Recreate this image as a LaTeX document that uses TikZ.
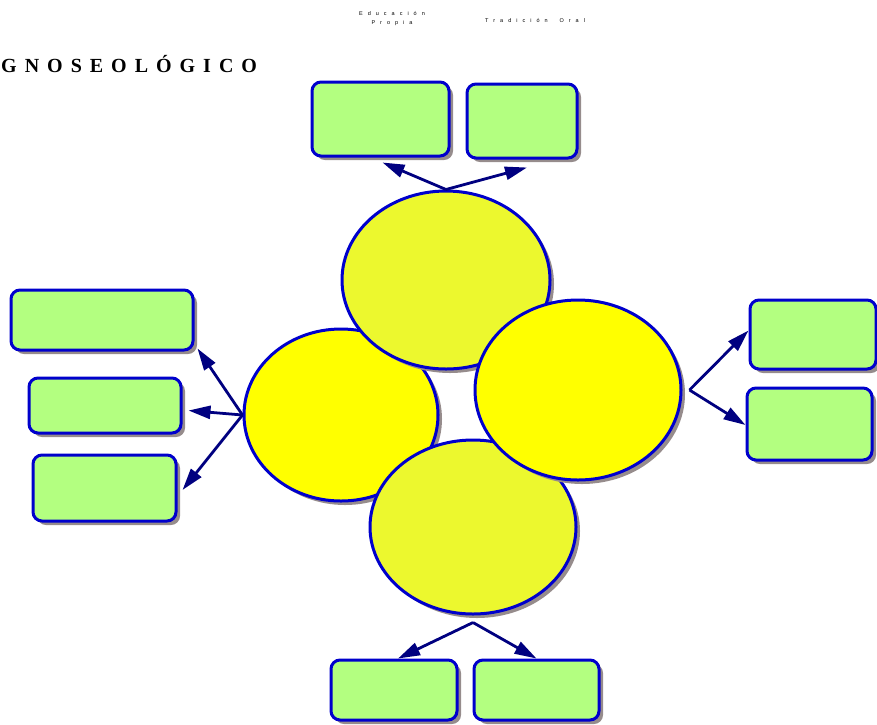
\documentclass[tikz,border=0pt]{standalone}
\usepackage{fontspec}
\setmainfont{Liberation Serif}
\newfontfamily\smallsans{Liberation Sans}
\usetikzlibrary{arrows.meta,shadows,shapes.geometric}

\definecolor{boxgreen}{RGB}{179,255,128}
\definecolor{edgeblue}{RGB}{0,0,204}
\definecolor{arrownavy}{RGB}{0,0,128}
\definecolor{shadowgray}{RGB}{150,140,140}
\definecolor{paleyellow}{RGB}{236,248,46}
\definecolor{fullyellow}{RGB}{255,255,0}

\tikzset{
  leafbox/.style={draw=edgeblue, fill=boxgreen, line width=3pt, rounded corners=9pt,
    drop shadow={shadow xshift=4pt, shadow yshift=-4pt, fill=shadowgray, opacity=1}},
  bubble/.style={ellipse, draw=edgeblue, line width=3pt, inner sep=0pt,
    drop shadow={shadow xshift=4pt, shadow yshift=-4pt, fill=shadowgray, opacity=1}},
  link/.style={draw=arrownavy, line width=2.8pt, -{Triangle[length=22pt, width=13pt]}},
}

\begin{document}
\begin{tikzpicture}[x=1pt, y=-1pt]
            \useasboundingbox (0,0) rectangle (877,724);

            % Titles
            \node[font=\smallsans\fontsize{5.5}{9}\selectfont, align=center] (edu) at (392,19)
              {\spaceskip=5pt E d u c a c i ó n\\ \spaceskip=5pt P r o p i a};
            \node[font=\smallsans\fontsize{5.5}{9}\selectfont] (trad) at (535,20)
              {\spaceskip=5pt T r a d i c i ó n \hspace{2pt} O r a l};
            \node[font=\bfseries\fontsize{20}{20}\selectfont, anchor=west, inner sep=0pt] (gnos) at (1,64)
              {\spaceskip=8pt G N O S E O L Ó G I C O};

            % Ellipses (back to front)
            \node[bubble, fill=fullyellow, minimum width=194pt, minimum height=172pt] (E1) at (341,415) {};
            \node[bubble, fill=paleyellow, minimum width=208pt, minimum height=178pt] (E2) at (446,280) {};
            \node[bubble, fill=paleyellow, minimum width=206pt, minimum height=174pt] (E4) at (473,527) {};
            \node[bubble, fill=fullyellow, minimum width=206pt, minimum height=180pt] (E3) at (578,390) {};

            % Boxes on top
            \node[leafbox, minimum width=137pt, minimum height=74pt] (T1) at (380.5,119) {};
            \node[leafbox, minimum width=110pt, minimum height=74pt] (T2) at (522,121) {};

            % Boxes on the left
            \node[leafbox, minimum width=182pt, minimum height=60pt] (L1) at (102,320) {};
            \node[leafbox, minimum width=152pt, minimum height=55pt] (L2) at (105,405.5) {};
            \node[leafbox, minimum width=143pt, minimum height=66pt] (L3) at (104.5,488) {};

            % Boxes on the right
            \node[leafbox, minimum width=126pt, minimum height=69pt] (R1) at (813,334.5) {};
            \node[leafbox, minimum width=125pt, minimum height=72pt] (R2) at (809.5,424) {};

            % Boxes at the bottom
            \node[leafbox, minimum width=126pt, minimum height=60pt] (B1) at (394,690) {};
            \node[leafbox, minimum width=125pt, minimum height=60pt] (B2) at (536.5,690) {};

            % Arrows
            \draw[link] (E2.north) -- ([xshift=2pt, yshift=-5pt]T1.south);
            \draw[link] (E2.north) -- ([xshift=5pt, yshift=-8pt]T2.south);
            \draw[link] (E1.west) -- ([xshift=3pt, yshift=3pt]L1.south east);
            \draw[link] (E1.west) -- ([xshift=6pt, yshift=-5pt]L2.east);
            \draw[link] (E1.west) -- ([xshift=5pt, yshift=-2pt]L3.east);
            \draw[link] ([xshift=7pt]E3.east) -- ([yshift=4pt]R1.west);
            \draw[link] ([xshift=7pt]E3.east) -- ([yshift=-1pt]R2.west);
            \draw[link] ([yshift=-7pt]E4.south) -- ([xshift=4pt]B1.north);
            \draw[link] ([yshift=-7pt]E4.south) -- ([xshift=0pt]B2.north);
        \end{tikzpicture}
\end{document}
